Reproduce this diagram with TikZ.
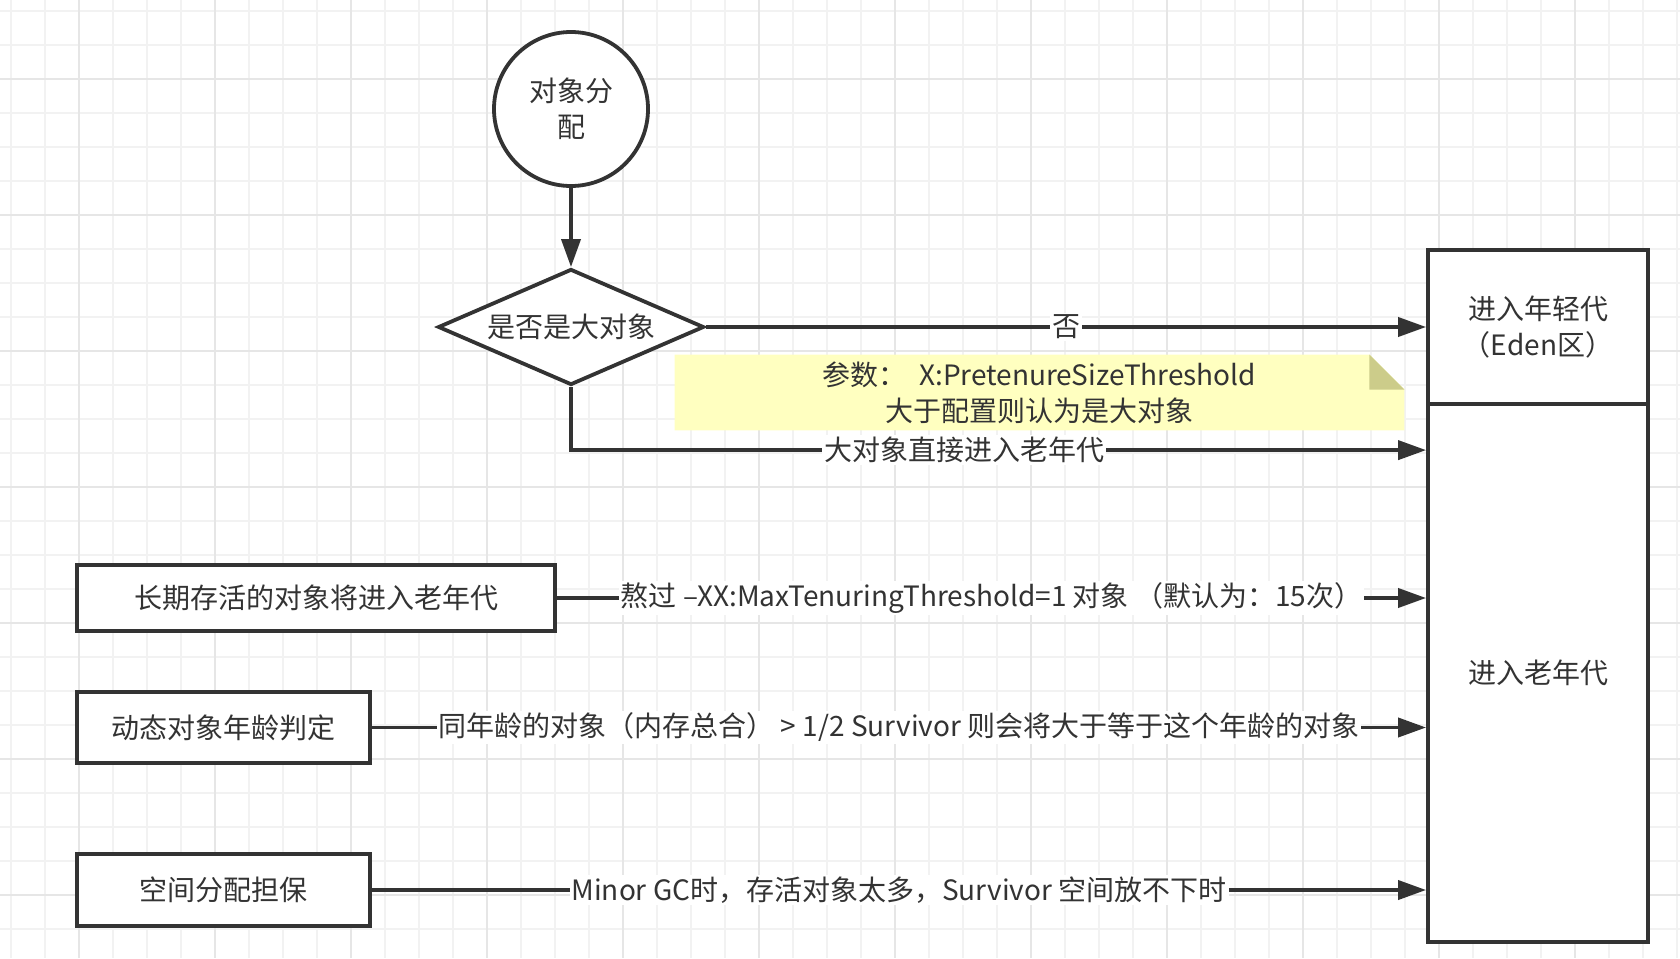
\documentclass[tikz,border=0pt]{standalone}
\usepackage{fontspec}
\setmainfont{Noto Sans CJK SC}
\usetikzlibrary{arrows.meta,shapes.geometric,positioning}
\definecolor{ink}{HTML}{333333}
\definecolor{minorgrid}{HTML}{F2F2F2}
\definecolor{majorgrid}{HTML}{E6E6E6}
\definecolor{notefill}{HTML}{FFFFC0}
\definecolor{notefold}{HTML}{CCCC8A}
\tikzset{
  box/.style={draw=ink,line width=1.9pt,fill=white,text=ink,inner sep=0pt},
  flow/.style={-{Triangle[length=14pt,width=9.5pt]},draw=ink,line width=1.9pt},
  lbl/.style={fill=white,text=ink,inner sep=1pt},
  gridminor/.style={draw=minorgrid,line width=0.7pt},
  gridmajor/.style={draw=majorgrid,line width=0.8pt}
}
\begin{document}
\begin{tikzpicture}[x=0.5pt,y=-0.5pt,font=\fontsize{14pt}{18pt}\selectfont]
  \useasboundingbox (0,0) rectangle (1680,958);
  % background grid
  \foreach \x in {11,45,...,1680} \draw[gridminor] (\x,0) -- (\x,958);
  \foreach \y in {11,45,...,958} \draw[gridminor] (0,\y) -- (1680,\y);
  \foreach \x in {79,215,...,1680} \draw[gridmajor] (\x,0) -- (\x,958);
  \foreach \y in {79,215,...,958} \draw[gridmajor] (0,\y) -- (1680,\y);

  % nodes
  \node[box,circle,minimum size=77pt,align=center] (start) at (571,109) {对象分\\配};
  \node[box,diamond,aspect=2.29,minimum width=133pt,minimum height=58pt] (dia) at (571,327) {是否是大对象};
  \node[box,minimum width=110pt,minimum height=77pt,align=center] (eden) at (1538,327) {进入年轻代\\（Eden区）};
  \node[box,minimum width=110pt,minimum height=269pt,below=-1.9pt of eden] (old) {进入老年代};
  \node[box,minimum width=239pt,minimum height=33pt] (long) at (316,598) {长期存活的对象将进入老年代};
  \node[box,minimum width=146.5pt,minimum height=35.5pt] (dyn) at (223.5,727.5) {动态对象年龄判定};
  \node[box,minimum width=146.5pt,minimum height=36pt] (guar) at (223.5,890) {空间分配担保};

  % note
  \node[minimum width=364.5pt,minimum height=37.5pt,inner sep=0pt] (note) at (1039.5,392.5) {};
  \fill[notefill] (note.north west) -- ([xshift=-17.5pt]note.north east)
    -- ([yshift=-17.5pt]note.north east) -- (note.south east) -- (note.south west) -- cycle;
  \fill[notefold] ([xshift=-17.5pt]note.north east) -- ([xshift=-17.5pt,yshift=-17.5pt]note.north east)
    -- ([yshift=-17.5pt]note.north east) -- cycle;
  \node[align=center,text=ink] (notetext) at (note.center) {参数：\ \ X:PretenureSizeThreshold\\大于配置则认为是大对象};

  % connectors
  \draw[flow] (start.south) -- (dia.north);
  \draw[flow] (dia.east) -- node[lbl]{否} (dia.east -| eden.west);
  \draw[flow] (dia.south) |- node[lbl,pos=0.73]{大对象直接进入老年代} ([yshift=-24pt]old.north west);
  \draw[flow] (long.east) -- node[lbl]{熬过 –XX:MaxTenuringThreshold=1 对象 （默认为：15次）} (long.east -| old.west);
  \draw[flow] (dyn.east) -- node[lbl]{同年龄的对象（内存总合） > 1/2 Survivor 则会将大于等于这个年龄的对象} (dyn.east -| old.west);
  \draw[flow] (guar.east) -- node[lbl]{Minor GC时，存活对象太多，Survivor 空间放不下时} (guar.east -| old.west);
\end{tikzpicture}
\end{document}
